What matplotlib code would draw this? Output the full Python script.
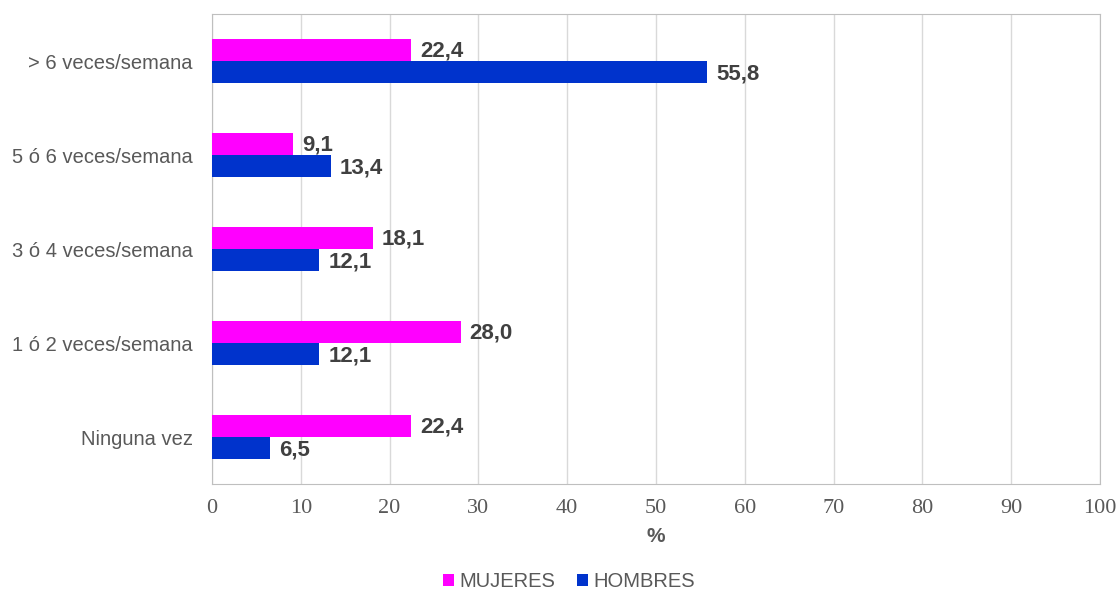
import matplotlib as ml
ml.use("Agg")
import matplotlib.pyplot as plt
import numpy as np

# datos
categorias = ['> 6 veces/semana', '5 ó 6 veces/semana', '3 ó 4 veces/semana',
              '1 ó 2 veces/semana', 'Ninguna vez']
mujeres = [22.4, 9.1, 18.1, 28.0, 22.4]
hombres = [55.8, 13.4, 12.1, 12.1, 6.5]
xticks = [0, 10, 20, 30, 40, 50, 60, 70, 80, 90, 100]

C_MUJ = '#FF00FF'
C_HOM = '#0033CC'
GRIS = '#595959'

fig = plt.figure(figsize=(11.18, 5.96), dpi=100)
ax = fig.add_axes([0.1896, 0.1879, 0.7943, 0.7886])

pos = np.arange(len(categorias))
h = 0.239
b1 = ax.barh(pos - h/2, mujeres, height=h, color=C_MUJ, label='MUJERES', zorder=3)
b2 = ax.barh(pos + h/2, hombres, height=h, color=C_HOM, label='HOMBRES', zorder=3)

for bars, vals in ((b1, mujeres), (b2, hombres)):
    for b, v in zip(bars, vals):
        ax.annotate(('%.1f' % v).replace('.', ','),
                    (b.get_width(), b.get_y() + b.get_height()/2),
                    xytext=(6.5, -1), textcoords='offset points',
                    va='center', ha='left', fontsize=16, fontweight='bold',
                    color='#404040', family='Liberation Sans')

ax.set_xlim(0, 100)
ax.set_ylim(len(categorias) - 0.5, -0.5)
ax.set_yticks(pos)
ax.set_yticklabels(categorias, family='Liberation Sans', fontsize=14.5, color=GRIS)
ax.set_xticks(xticks)
ax.set_xticklabels([str(x) for x in xticks], family='Liberation Serif', fontsize=16, color=GRIS)
ax.tick_params(axis='x', length=0, pad=11)
ax.tick_params(axis='y', length=0, pad=14)
ax.grid(axis='x', color='#D9D9D9', linewidth=1, zorder=0)
for s in ax.spines.values():
    s.set_color('#BFBFBF')

ax.set_xlabel('%', family='Liberation Sans', fontsize=15, fontweight='bold', color=GRIS, labelpad=6)

fig.legend(handles=[b1, b2], loc='lower center', bbox_to_anchor=(0.509, -0.022), ncol=2,
           frameon=False, prop={'family': 'Liberation Sans', 'size': 14.5},
           labelcolor=GRIS, handlelength=0.55, handleheight=0.55, handletextpad=0.25,
           columnspacing=1.1)

plt.savefig('out.png', dpi=100)
